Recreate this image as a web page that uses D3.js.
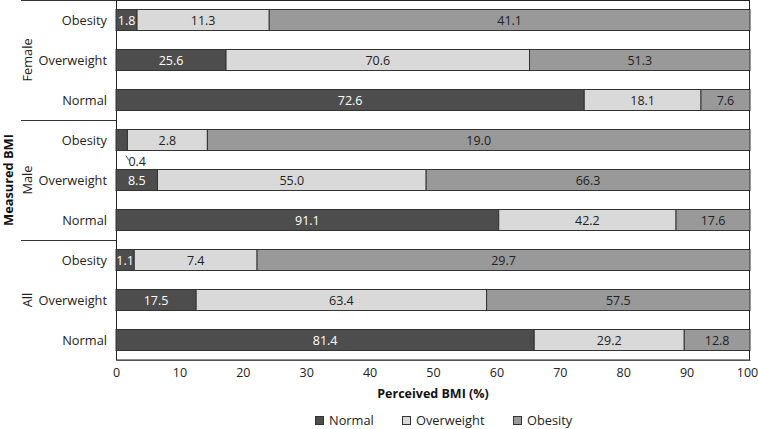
<!DOCTYPE html>
<html><head><meta charset="utf-8">
<script src="https://cdn.jsdelivr.net/npm/d3@7"></script>
<style>body{margin:0;background:#fff}svg{display:block;font-family:"Open Sans",sans-serif}</style>
</head><body><svg id="c" width="758" height="429"></svg>
<script>
const groups = ["Female","Male","All"];
const measured = ["Obesity","Overweight","Normal"];
const perceived = ["Normal","Overweight","Obesity"];
// values per row: [Normal, Overweight, Obesity], rows ordered group × measured
const normalVals     = [1.8, 25.6, 72.6, 0.4, 8.5, 91.1, 1.1, 17.5, 81.4];
const overweightVals = [11.3, 70.6, 18.1, 2.8, 55.0, 42.2, 7.4, 63.4, 29.2];
const obesityVals    = [41.1, 51.3, 7.6, 19.0, 66.3, 17.6, 29.7, 57.5, 12.8];
const xTicks = [0,10,20,30,40,50,60,70,80,90,100];
const colors = ["#4d4d4d","#d9d9d9","#999999"];
const textColors = ["#ffffff","#222222","#222222"];

const rows = [];
groups.forEach((g,gi)=>measured.forEach((m,mi)=>{
  const i = gi*3+mi;
  const vals=[normalVals[i],overweightVals[i],obesityVals[i]];
  rows.push({key:g+"|"+m, group:g, measured:m, vals, total:d3.sum(vals)});
}));

const svg = d3.select("#c");
const m = {left:116, right:750, top:0, bottom:360};
const x = d3.scaleLinear().domain([0,100]).range([m.left,m.right]);
const y = d3.scaleBand().domain(rows.map(r=>r.key)).range([m.top,m.bottom]).paddingInner(0.475).paddingOuter(0.2375);

// frame
svg.append("rect").attr("x",m.left+0.5).attr("y",0.5).attr("width",m.right-m.left-1).attr("height",m.bottom-0.5)
  .attr("fill","none").attr("stroke","#222").attr("stroke-width",1);

const rowG = svg.selectAll("g.row").data(rows).join("g").attr("class","row");
rowG.each(function(r){
  const g = d3.select(this);
  let cum = 0;
  r.vals.forEach((v,k)=>{
    const p0 = cum/r.total*100, p1=(cum+v)/r.total*100;
    cum += v;
    g.append("rect").attr("x",x(p0)).attr("y",y(r.key)).attr("width",x(p1)-x(p0)).attr("height",y.bandwidth())
      .attr("fill",colors[k]).attr("stroke","#333").attr("stroke-width",1);
    if (r.key==="Male|Obesity" && k===0) {
      g.append("line").attr("x1",x(p1)-1.5).attr("y1",y(r.key)+y.bandwidth()+5).attr("x2",x(p1)+1.5).attr("y2",y(r.key)+y.bandwidth()+10)
        .attr("stroke","#333").attr("stroke-width",0.8);
      g.append("text").attr("x",x(p1)+1).attr("y",y(r.key)+y.bandwidth()+11).attr("dy","0.35em")
        .attr("font-size",12.5).attr("fill","#222").text(v.toFixed(1));
    } else {
      g.append("text").attr("x",(x(p0)+x(p1))/2).attr("y",y(r.key)+y.bandwidth()/2).attr("dy","0.36em")
        .attr("text-anchor","middle").attr("font-size",12.5).attr("fill",textColors[k]).text(v.toFixed(1));
    }
  });
});

// category labels
svg.selectAll("text.cat").data(rows).join("text").attr("class","cat")
  .attr("x",m.left-9).attr("y",r=>y(r.key)+y.bandwidth()/2).attr("dy","0.36em")
  .attr("text-anchor","end").attr("font-size",12.8).attr("fill","#222").text(r=>r.measured);

// group labels + separators
groups.forEach((gname,gi)=>{
  const y0 = m.top + gi*(m.bottom-m.top)/3, y1 = m.top+(gi+1)*(m.bottom-m.top)/3;
  svg.append("text").attr("transform",`translate(27,${(y0+y1)/2}) rotate(-90)`).attr("dy","0.36em")
    .attr("text-anchor","middle").attr("font-size",12.8).attr("fill","#222").text(gname);
  svg.append("line").attr("x1",21).attr("x2",m.left).attr("y1",y0+0.5).attr("y2",y0+0.5).attr("stroke","#333");
});

svg.append("text").attr("transform",`translate(8,${(m.top+m.bottom)/2}) rotate(-90)`).attr("dy","0.36em")
  .attr("text-anchor","middle").attr("font-size",12.8).attr("font-weight","bold").attr("fill","#111").text("Measured BMI");

// x axis
const ax = svg.append("g").attr("transform",`translate(0,${m.bottom})`)
  .call(d3.axisBottom(x).tickValues(xTicks).tickSize(0).tickPadding(8).tickFormat(d3.format("d")));
ax.select(".domain").attr("stroke","#555").attr("stroke-width",1.2);
ax.selectAll("text").attr("font-size",12.5).attr("fill","#222").attr("font-family","Open Sans, sans-serif")
  .attr("dx",d=>d===100?-3:0);

svg.append("text").attr("x",(m.left+m.right)/2).attr("y",393).attr("dy","0.36em").attr("text-anchor","middle")
  .attr("font-size",12.5).attr("font-weight","bold").attr("fill","#111").text("Perceived BMI (%)");

// legend
const legX = [315, 402, 513];
perceived.forEach((p,k)=>{
  svg.append("rect").attr("x",legX[k]+0.5).attr("y",416.5).attr("width",8).attr("height",8)
    .attr("fill",colors[k]).attr("stroke","#333");
  svg.append("text").attr("x",legX[k]+14).attr("y",420.5).attr("dy","0.36em").attr("font-size",12.8)
    .attr("fill","#222").text(p);
});
</script></body></html>
